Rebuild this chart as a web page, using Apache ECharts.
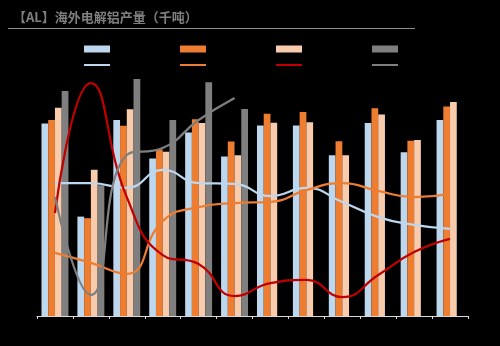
<!DOCTYPE html>
<html><head><meta charset="utf-8">
<script src="https://cdn.jsdelivr.net/npm/echarts@6/dist/echarts.min.js"></script>
<style>html,body{margin:0;padding:0;background:#000;}#c{width:500px;height:346px;}</style>
</head><body><div id="c"></div>
<script>
const categories = ['1月','2月','3月','4月','5月','6月','7月','8月','9月','10月','11月','12月'];
const barNames = ['2022年','2023年','2024年','2025年'];
const lineNames = ['2022年同比','2023年同比','2024年同比','2025年同比'];
const prod2022 = [2290, 2053, 2299, 2201, 2267, 2206, 2285, 2285, 2209, 2291, 2217, 2299];
const prod2023 = [2299, 2049, 2284, 2224, 2301, 2244, 2315, 2319, 2245, 2329, 2246, 2333];
const prod2024 = [2330, 2172, 2326, 2218, 2291, 2209, 2292, 2293, 2209, 2313, 2248, 2345];
const prod2025 = [2373, 2133, 2403, 2299, 2395, 2327];
const yoy2022 = [2.13, 2.13, 1.95, 2.62, 2.13, 2.10, 1.65, 1.95, 1.43, 0.87, 0.58, 0.43];
const yoy2023 = [-0.46, -0.83, -1.24, 0.72, 1.24, 1.39, 1.43, 1.87, 2.13, 1.84, 1.61, 1.73];
const yoy2024 = [1.02, 5.84, 1.61, -0.54, -0.87, -2.06, -1.58, -1.46, -2.10, -1.28, -0.43, 0.06];
const yoy2025 = [1.61, -2.02, 3.17, 3.43, 4.47, 5.29];

const barColors = ['#bdd7ee', '#ed7d31', '#f8cbad', '#7f7f7f'];
const lineColors = ['#bdd7ee', '#ed7d31', '#c00000', '#7f7f7f'];
const barData = [prod2022, prod2023, prod2024, prod2025];
const lineData = [yoy2022, yoy2023, yoy2024, yoy2025];

const chart = echarts.init(document.getElementById('c'), null, {renderer: 'canvas'});
const legendX = [79, 175, 271, 367];
const legends = [];
barNames.forEach((n, i) => legends.push({
  data: [n], left: legendX[i], top: 39, icon: 'rect', itemWidth: 26, itemHeight: 7,
  textStyle: {color: '#000', fontSize: 10}, selectedMode: false
}));
lineNames.forEach((n, i) => legends.push({
  data: [n], left: legendX[i], top: 55, icon: 'rect', itemWidth: 26, itemHeight: 2,
  textStyle: {color: '#000', fontSize: 10}, selectedMode: false
}));

const series = [];
barNames.forEach((n, i) => series.push({
  name: n, type: 'bar', data: barData[i], yAxisIndex: 0,
  barGap: '0%', barCategoryGap: '25%',
  itemStyle: {color: barColors[i]}
}));
lineNames.forEach((n, i) => series.push({
  name: n, type: 'line', data: lineData[i], yAxisIndex: 1, smooth: true,
  symbol: 'none', lineStyle: {color: lineColors[i], width: 2.25},
  itemStyle: {color: lineColors[i]}, z: 5
}));

chart.setOption({
  backgroundColor: '#000',
  animation: false,
  title: {text: '【AL】海外电解铝产量（千吨）', left: 8, top: 6,
    textStyle: {color: '#7f7f7f', fontSize: 13, fontWeight: 'bold', fontFamily: 'Noto Sans CJK SC'}},
  legend: legends,
  graphic: [{type: 'line', shape: {x1: 8, y1: 28.5, x2: 415, y2: 28.5},
    style: {stroke: '#8c8c8c', lineWidth: 1}}],
  grid: {left: 37, right: 32, top: 41, bottom: 30},
  xAxis: {type: 'category', data: categories,
    axisLine: {onZero: false, lineStyle: {color: '#d9d9d9', width: 1}},
    axisTick: {show: true, length: 3, lineStyle: {color: '#d9d9d9'}},
    axisLabel: {color: '#000', fontSize: 10}},
  yAxis: [
    {type: 'value', min: 1800, max: 2500, show: false, splitLine: {show: false}},
    {type: 'value', min: -2.8, max: 7.4, show: false, splitLine: {show: false}}
  ],
  series: series
});
</script></body></html>
